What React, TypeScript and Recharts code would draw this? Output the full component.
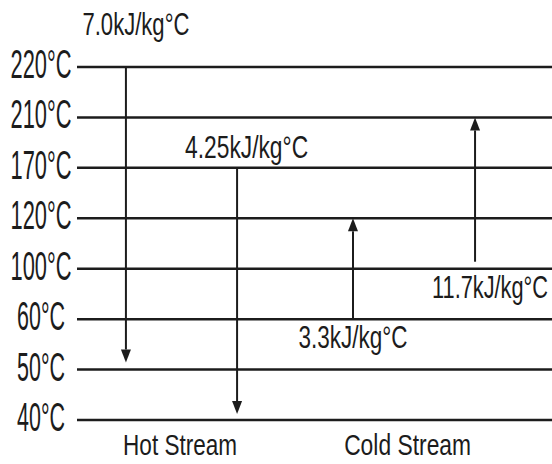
import { ComposedChart, XAxis, YAxis, ReferenceLine } from 'recharts';

// temperature levels, drawn evenly spaced (bottom to top)
const temperatures = [40, 50, 60, 100, 120, 170, 210, 220];

// stream labels along the bottom, on a 0-100 horizontal axis
const streamNames = ['Hot Stream', 'Cold Stream'];
const streamPos = [21.7, 69.6];

// one arrow per stream segment
const arrowX = [10.3, 33.7, 58.1, 83.8];
const arrowFrom = [220, 170, 60, 100];
const arrowTo = [50, 40, 120, 210];
const arrowCp = ['7.0', '4.25', '3.3', '11.7'];

// drawing details for each arrow (px)
const arrowLook = [
  { startGap: 0, endGap: 7, labelDx: 10, labelDy: -32, labelW: 107 },
  { startGap: 0, endGap: 6, labelDx: 9.5, labelDy: -10, labelW: 123 },
  { startGap: 0, endGap: 0, labelDx: 0, labelDy: 29, labelW: 109 },
  { startGap: 7, endGap: 0, labelDx: 15, labelDy: 29, labelW: 116 },
];

const INK = '#1c1c1c';
const FONT_NAME = 'Liberation Sans';
const FONT = `"${FONT_NAME}", Arial, sans-serif`;
const level = (t: number) => temperatures.indexOf(t);

const ctx = document.createElement('canvas').getContext('2d');

// squeeze text horizontally to the narrow look of the original lettering
function NarrowText({ cx, y, size, width, children }: any) {
  let sx = 0.7;
  if (ctx) {
    ctx.font = `${size}px "${FONT_NAME}"`;
    const w = ctx.measureText(children).width;
    if (w > 0) sx = width / w;
  }
  return (
    <text
      transform={`translate(${cx},${y}) scale(${sx},1)`}
      textAnchor="middle"
      fontFamily={FONT}
      fontSize={size}
      fill={INK}
    >
      {children}
    </text>
  );
}

function TempTick(props: any) {
  const { y, payload } = props;
  const t = temperatures[payload.value];
  return (
    <NarrowText cx={41} y={y + 11} size={40} width={t >= 100 ? 61 : 48}>
      {`${t}°C`}
    </NarrowText>
  );
}

function StreamTick(props: any) {
  const { x, payload } = props;
  const i = streamPos.indexOf(payload.value);
  return (
    <NarrowText cx={x} y={455} size={29} width={i === 0 ? 114 : 127}>
      {streamNames[i]}
    </NarrowText>
  );
}

const arrowShape = (i: number) => (props: any) => {
  const { x1, y1, y2 } = props;
  const look = arrowLook[i];
  const dir = y2 > y1 ? 1 : -1;
  const start = y1 + dir * look.startGap;
  const tip = y2 - dir * look.endGap;
  const headLen = 13;
  const headW = 5;
  const base = tip - dir * headLen;
  return (
    <g>
      <line x1={x1} y1={start} x2={x1} y2={base} stroke={INK} strokeWidth={2} />
      <polygon
        points={`${x1 - headW},${base} ${x1 + headW},${base} ${x1},${tip}`}
        fill={INK}
      />
      <NarrowText cx={x1 + look.labelDx} y={y1 + look.labelDy} size={32} width={look.labelW}>
        {`${arrowCp[i]}kJ/kg°C`}
      </NarrowText>
    </g>
  );
};

export default function App() {
  const data = arrowX.map((x, i) => ({ x, from: level(arrowFrom[i]), to: level(arrowTo[i]) }));
  return (
    <div style={{ position: 'absolute', left: 0, top: 0, width: 552, height: 464, background: '#fff' }}>
      <ComposedChart width={552} height={464} data={data} margin={{ top: 67, right: 0, bottom: 0, left: 0 }}>
        <XAxis
          type="number"
          dataKey="x"
          domain={[0, 100]}
          ticks={streamPos}
          axisLine={false}
          tickLine={false}
          height={44}
          tick={<StreamTick />}
        />
        <YAxis
          type="number"
          dataKey="from"
          domain={[0, temperatures.length - 1]}
          ticks={temperatures.map((_, i) => i)}
          interval={0}
          axisLine={false}
          tickLine={false}
          width={77}
          tick={<TempTick />}
        />
        {temperatures.map((t) => (
          <ReferenceLine key={t} y={level(t)} stroke={INK} strokeWidth={2.5} ifOverflow="visible" />
        ))}
        {data.map((d, i) => (
          <ReferenceLine
            key={`a${i}`}
            segment={[{ x: d.x, y: d.from }, { x: d.x, y: d.to }]}
            shape={arrowShape(i)}
            ifOverflow="visible"
          />
        ))}
      </ComposedChart>
    </div>
  );
}
